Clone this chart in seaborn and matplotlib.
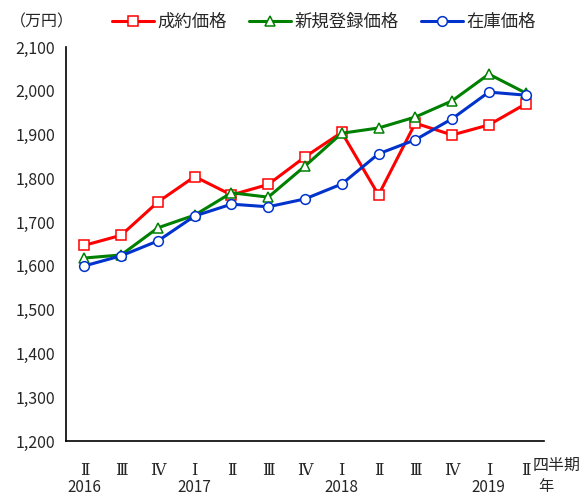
import matplotlib
matplotlib.use("Agg")
import matplotlib.pyplot as plt
import seaborn as sns
import numpy as np
import pandas as pd

quarters = ["Ⅱ", "Ⅲ", "Ⅳ", "Ⅰ", "Ⅱ", "Ⅲ", "Ⅳ", "Ⅰ", "Ⅱ", "Ⅲ", "Ⅳ", "Ⅰ", "Ⅱ"]
years = ["2016", "2017", "2018", "2019"]
year_pos = [0, 3, 7, 11]
seiyaku = [1647, 1670, 1746, 1804, 1762, 1786, 1849, 1905, 1762, 1926, 1899, 1922, 1970]
shinki = [1618, 1625, 1687, 1716, 1767, 1757, 1828, 1903, 1915, 1940, 1977, 2038, 1995]
zaiko = [1600, 1623, 1657, 1714, 1741, 1735, 1753, 1787, 1856, 1888, 1936, 1997, 1990]
series_names = ["成約価格", "新規登録価格", "在庫価格"]

sns.set_theme(style="white")
plt.rcParams['font.family'] = ['Noto Sans CJK JP', 'DejaVu Sans']

fig = plt.figure(figsize=(5.88, 4.97), dpi=100)
ax = fig.add_axes([66/588, 1-441/497, (544-66)/588, (441-47)/497])

x = np.arange(len(quarters))
specs = [(seiyaku, "#ff0000", "s", 7), (shinki, "#008000", "^", 7), (zaiko, "#0033cc", "o", 7)]
for (vals, col, mk, ms), name in zip(specs, series_names):
    df = pd.DataFrame({"x": x, "y": vals})
    sns.lineplot(data=df, x="x", y="y", ax=ax, color=col, linewidth=2.2,
                 marker=mk, markersize=ms, markerfacecolor="white",
                 markeredgecolor=col, markeredgewidth=1.1, label=name, legend=False)

ax.set_xlim(-0.5, len(quarters) - 0.5)
ax.set_ylim(1200, 2100)
ax.set_yticks(np.arange(1200, 2101, 100))
ax.set_yticklabels([f"{v:,}" for v in range(1200, 2101, 100)], fontsize=11.5)
ax.set_xticks(x)
ax.set_xticklabels(quarters, fontsize=11.5, family=["DejaVu Serif"])
ax.set_xticks(np.arange(-0.5, len(quarters), 1), minor=True)
ax.tick_params(axis="x", which="major", length=0, pad=15)
ax.tick_params(axis="x", which="minor", direction="in", length=5, width=1, color="black")
ax.tick_params(axis="y", direction="in", length=5, width=1, color="black", pad=8)
ax.set_xlabel("")
ax.set_ylabel("")
for s in ["top", "right"]:
    ax.spines[s].set_visible(False)
for s in ["left", "bottom"]:
    ax.spines[s].set_color("black")
    ax.spines[s].set_linewidth(1.2)
ax.grid(False)

trans = ax.get_xaxis_transform()
for yr, p in zip(years, year_pos):
    ax.text(p, -0.118, yr, transform=trans, ha="center", va="center", fontsize=11)

fig.text(533/588, 1-465/497, "四半期", ha="left", va="center", fontsize=11.5)
fig.text(546/588, 1-487/497, "年", ha="center", va="center", fontsize=11)
fig.text(10/588, 1-22/497, "（万円）", ha="left", va="center", fontsize=11.5)

handles, labels = ax.get_legend_handles_labels()
fig.legend(handles, labels, loc="center", bbox_to_anchor=(324/588, 1-22/497), ncol=3,
           frameon=False, fontsize=12.5, handlelength=2.4, handletextpad=0.2,
           columnspacing=1.3)

fig.savefig("out.png", dpi=100)
